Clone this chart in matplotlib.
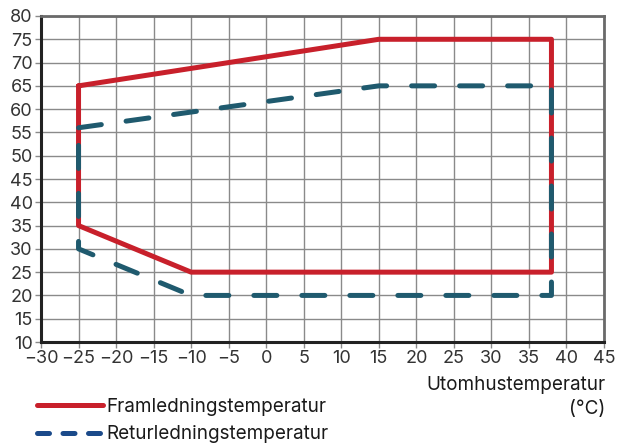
import matplotlib.pyplot as plt
from matplotlib.lines import Line2D

plt.rcParams['font.family'] = ['Inter', 'DejaVu Sans']

# arbetsområde, framledning (°C ute, °C vatten)
fram_ute = [-25, 15, 38, 38, -10, -25, -25]
fram_temp = [65, 75, 75, 25, 25, 35, 65]

# arbetsområde, returledning
retur_ute = [-25, 15, 38, 38, -10, -25, -25]
retur_temp = [56, 65, 65, 20, 20, 30, 56]

x_ticks = list(range(-30, 50, 5))
y_ticks = list(range(10, 85, 5))

red = '#c8202b'
teal = '#1f5a6e'
legend_blue = '#1b4a8a'

fig = plt.figure(figsize=(6.17, 4.44), dpi=100)
ax = fig.add_axes([41 / 617, 102 / 444, 563 / 617, 326 / 444])

ax.plot(fram_ute, fram_temp, color=red, lw=3.6, solid_capstyle='round',
        solid_joinstyle='round', zorder=3)
ax.plot(retur_ute, retur_temp, color=teal, lw=3.6, dashes=(4.6, 5.0),
        dash_capstyle='round', dash_joinstyle='round', zorder=4)

ax.set_xlim(-30, 45)
ax.set_ylim(10, 80)
ax.set_xticks(x_ticks)
ax.set_yticks(y_ticks)
ax.set_xticklabels([str(t).replace('-', '\u2212') for t in x_ticks])
ax.grid(True, color='#8a8a8a', lw=1.0, zorder=1)
ax.set_axisbelow(True)

for side in ('left', 'bottom'):
    ax.spines[side].set_color('#222222')
    ax.spines[side].set_linewidth(2.2)
for side in ('top', 'right'):
    ax.spines[side].set_color('#6a6a6a')
    ax.spines[side].set_linewidth(2.0)

ax.tick_params(axis='both', direction='out', length=4, width=1,
               color='#8a8a8a', labelsize=13, labelcolor='#333333', pad=2)

fig.text(605 / 617, 1 - 397 / 444, 'Utomhustemperatur\n(°C)', ha='right',
         va='center', multialignment='right', fontsize=13.6, color='#1a1a1a',
         linespacing=1.45)

handles = [
    Line2D([], [], color=red, lw=3.6, solid_capstyle='round'),
    Line2D([], [], color=legend_blue, lw=3.6, dashes=(2.4, 2.7),
           dash_capstyle='round'),
]
fig.legend(handles, ['Framledningstemperatur', 'Returledningstemperatur'],
           loc='upper left', bbox_to_anchor=(37 / 617, 1 - 398 / 444),
           frameon=False, handlelength=3.5, handletextpad=0.15,
           labelspacing=0.5, fontsize=13.6, labelcolor='#1a1a1a',
           borderpad=0, borderaxespad=0)

fig.savefig('out.png', dpi=100)
